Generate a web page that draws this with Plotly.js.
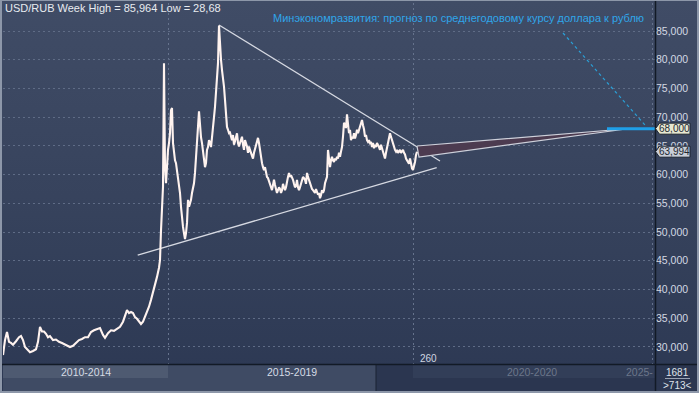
<!DOCTYPE html>
<html><head><meta charset="utf-8">
<script src="https://cdn.plot.ly/plotly-3.0.1.min.js"></script>
<style>
html,body{margin:0;padding:0;background:#2e3a55;overflow:hidden;}
#chart{width:699px;height:393px;background:linear-gradient(to bottom,#404c66 0%,#37435d 50%,#2c3853 100%);}
</style></head><body><div id="chart"></div>
<script>
// ---- data (week index, USD/RUB weekly price) ----
var earlyWeeks = [0,2,4,6,8,10,13,16,18,20,22,25,27,30,33,35,37,39,41,43,45,47,50,53,56,59,63,67,70,73,76,79,82,85,88,91,94,97,100,102,105,108,111,114,117,120,122,124,126,128,130,132,134,136,138,140,142,144,146,148,150,152,154,156];
var earlyPrice = [28.6,31.2,32.6,30.9,30.7,30.4,31.0,31.7,31.9,31.2,30.0,29.5,29.1,29.3,29.6,30.9,33.5,32.7,32.7,32.3,31.7,31.9,31.2,31.3,30.9,30.7,30.4,30.0,30.2,30.7,31.2,31.4,31.7,31.7,32.6,32.9,33.1,33.3,32.1,31.6,32.4,32.9,32.8,33.1,33.5,34.4,35.5,36.4,35.9,36.1,35.9,35.2,34.9,34.4,34.0,34.4,35.2,36.1,37.0,38.2,39.4,40.9,42.2,43.8];
var weeklyStart = 157;
var weeklyPrice = [45.1,50.3,55.0,57.9,79.4,61.3,58.5,62.5,64.3,65.5,67.2,71.2,71.6,65.5,63.8,62.5,62.0,60.8,60.0,58.5,
56.8,54.4,52.1,50.9,49.8,48.8,49.8,51.6,55.6,54.4,55.0,55.6,56.8,57.8,58.5,60.3,62.5,64.8,68.3,71.0,
68.3,66.5,65.5,64.3,62.5,61.3,62.0,64.3,64.8,66.0,65.5,64.8,66.5,69.0,70.0,71.8,74.2,76.5,79.4,85.96,
81.7,80.0,78.2,77.0,75.3,73.0,70.0,68.3,67.8,67.2,67.3,66.4,66.0,66.9,65.2,65.8,66.6,67.2,65.5,64.9,
65.5,66.0,66.6,65.2,64.3,66.0,65.5,64.9,63.8,64.9,64.3,63.8,63.1,62.8,63.8,64.6,65.2,66.0,66.4,65.5,
64.3,62.5,62.0,61.3,60.8,61.3,60.3,59.6,59.4,58.7,58.4,57.8,57.3,58.4,59.1,58.2,57.3,56.8,57.3,57.8,
57.5,56.8,57.3,58.4,57.8,57.3,57.8,59.1,59.6,60.3,59.6,59.9,59.6,59.1,58.4,57.8,58.0,59.1,57.8,57.3,
57.8,58.4,59.1,59.6,59.4,59.1,58.4,60.3,59.6,59.1,58.4,57.8,57.5,57.3,57.0,56.8,57.5,57.0,56.5,56.8,
55.9,56.4,57.3,56.8,57.3,58.5,59.1,59.6,64.3,62.5,61.3,62.5,63.1,62.5,62.2,62.8,62.5,63.1,62.8,63.8,
63.1,64.0,64.8,66.6,69.0,68.8,68.1,70.5,68.6,67.2,67.8,66.0,66.6,66.3,67.2,66.3,66.9,67.8,67.2,67.8,
68.3,69.2,69.5,68.6,67.9,66.6,66.9,66.0,65.7,66.0,65.5,65.7,64.8,65.5,64.6,65.2,64.8,65.5,65.2,64.8,
64.3,65.2,64.6,63.8,63.1,62.8,63.8,64.6,65.5,66.4,67.2,66.6,66.0,65.2,64.6,64.3,64.0,64.3,63.8,64.0,
64.3,63.8,64.0,64.3,63.8,63.5,62.8,62.5,62.2,61.9,62.8,61.9,61.1,60.8,61.4,62.2,63.4,63.994];

// drawn objects
var upperLineWeeks = [216, 437];   var upperLinePrices = [86.04, 62.37];
var lowerLineWeeks = [134.7, 433.7]; var lowerLinePrices = [46.0, 61.2];
var forecastWeeks = [414, 627, 416, 414]; var forecastPrices = [64.98, 68.03, 63.07, 64.98];
var targetWeeks = [604, 652]; var targetPrices = [68, 68];
var pointerWeeks = [560, 642]; var pointerPrices = [84.65, 68.64];
var yTicks = [30,35,40,45,50,55,60,65,70,75,80,85];
var gridWeeks = [165, 410, 649];
var lastPrice = 63.994, forecastPrice = 68.000;
var bandLabels = ['2010-2014','2015-2019','2020-2020','2025-'];

var weeks = earlyWeeks.slice(), prices = earlyPrice.slice();
weeklyPrice.forEach(function(v,i){ weeks.push(weeklyStart+i); prices.push(v); });

var FONT = 'Liberation Sans, Arial, sans-serif';
var traces = [
 {x:upperLineWeeks,y:upperLinePrices,mode:'lines',line:{color:'#d6d9e2',width:1.3},hoverinfo:'skip'},
 {x:lowerLineWeeks,y:lowerLinePrices,mode:'lines',line:{color:'#d6d9e2',width:1.3},hoverinfo:'skip'},
 {x:forecastWeeks,y:forecastPrices,mode:'lines',fill:'toself',fillcolor:'#4c3b50',line:{color:'#cdd0da',width:1.2},hoverinfo:'skip'},
 {x:weeks,y:prices,mode:'lines',line:{color:'#fff3ef',width:2.1},hoverinfo:'skip'},
 {x:targetWeeks,y:targetPrices,mode:'lines',line:{color:'#1f9fe8',width:3},hoverinfo:'skip'},
 {x:pointerWeeks,y:pointerPrices,mode:'lines',line:{color:'#2a9fd6',width:1.2,dash:'dot'},hoverinfo:'skip'}
];

function px(p){return (p-3)/652;}
function py(p){return (364-p)/361;}
function rect(x0,x1,y0,y1,c){return {type:'rect',xref:'paper',yref:'paper',x0:px(x0),x1:px(x1),y0:py(y1),y1:py(y0),fillcolor:c,line:{width:0},layer:'above'};}
function line(x0,y0,x1,y1,c,w){return {type:'line',xref:'paper',yref:'paper',x0:px(x0),x1:px(x1),y0:py(y0),y1:py(y1),line:{color:c,width:w},layer:'above'};}
function tag(v,fill){
  var h=0.96;
  return {type:'path',xref:'paper',yref:'y',layer:'above',
    path:'M '+px(655.5)+','+v+' L '+px(659.5)+','+(v+h)+' L '+px(690)+','+(v+h)+' L '+px(690)+','+(v-h)+' L '+px(659.5)+','+(v-h)+' Z',
    fillcolor:fill,line:{color:'#1b2330',width:1}};
}
var shapes = [
 rect(3,168,365,378,'#4e5a71'),
 rect(168,376,365,391,'#3f4b64'),
 rect(3,168,378,391,'#3f4b64'),
 rect(376,655,365,391,'#2b3650'),
 rect(413,655,365,378,'#323e58'),
 rect(655,699,365,393,'#2b3650'),
 line(376,365,376,391,'#1a2232',1),
 line(665,378.5,690,378.5,'#9aa3b3',1),
 line(0,364.5,699,364.5,'#121a26',1.5),
 line(655.5,0,655.5,393,'#121a26',1.5),
 line(1,0,1,393,'#8d97a9',2),
 line(698,0,698,393,'#8d97a9',2),
 line(0,392,699,392,'#8d97a9',2),
 line(0,0.5,699,0.5,'#8d97a9',1),
 tag(forecastPrice,'#e7e7d0'),
 tag(lastPrice,'#c9ced8')
];

var annotations = [
 {xref:'paper',yref:'paper',x:px(3),y:py(8),xanchor:'left',yanchor:'middle',showarrow:false,
  text:'USD/RUB Week High = 85,964 Low = 28,68',font:{family:FONT,size:11,color:'#e8ebf0'}},
 {xref:'paper',yref:'paper',x:px(646),y:py(18),xanchor:'right',yanchor:'middle',showarrow:false,
  text:'Минэкономразвития: прогноз по среднегодовому курсу доллара к рублю',font:{family:FONT,size:11,color:'#2fa6ea'}},
 {xref:'paper',yref:'paper',x:px(428),y:py(358),xanchor:'center',yanchor:'middle',showarrow:false,
  text:'260',font:{family:FONT,size:10,color:'#d0d6e0'}},
 {xref:'paper',yref:'paper',x:px(86),y:py(372),xanchor:'center',yanchor:'middle',showarrow:false,
  text:bandLabels[0],font:{family:FONT,size:10.5,color:'#d6dbe4'}},
 {xref:'paper',yref:'paper',x:px(292),y:py(372),xanchor:'center',yanchor:'middle',showarrow:false,
  text:bandLabels[1],font:{family:FONT,size:10.5,color:'#d6dbe4'}},
 {xref:'paper',yref:'paper',x:px(532),y:py(372),xanchor:'center',yanchor:'middle',showarrow:false,
  text:bandLabels[2],font:{family:FONT,size:10.5,color:'#6c768a'}},
 {xref:'paper',yref:'paper',x:px(655),y:py(372),xanchor:'right',yanchor:'middle',showarrow:false,
  text:bandLabels[3],font:{family:FONT,size:10.5,color:'#6c768a'}},
 {xref:'paper',yref:'paper',x:px(678),y:py(372),xanchor:'center',yanchor:'middle',showarrow:false,
  text:'1681',font:{family:FONT,size:10,color:'#dfe3ea'}},
 {xref:'paper',yref:'paper',x:px(678),y:py(385),xanchor:'center',yanchor:'middle',showarrow:false,
  text:'&gt;713&lt;',font:{family:FONT,size:10,color:'#dfe3ea'}},
 {xref:'paper',yref:'y',x:px(674),y:forecastPrice,xanchor:'center',yanchor:'middle',showarrow:false,
  text:'68,000',font:{family:FONT,size:10,color:'#222831'}},
 {xref:'paper',yref:'y',x:px(674),y:lastPrice,xanchor:'center',yanchor:'middle',showarrow:false,
  text:'63,994',font:{family:FONT,size:10,color:'#222831'}}
];

var layout = {
 width:699,height:393,margin:{l:3,r:44,t:3,b:29,pad:0},
 paper_bgcolor:'rgba(0,0,0,0)',plot_bgcolor:'rgba(0,0,0,0)',
 showlegend:false,separators:', ',
 xaxis:{range:[0,652],tickvals:gridWeeks,showticklabels:false,ticks:'',showgrid:true,gridcolor:'#66738d',griddash:'2px,3px',gridwidth:1,zeroline:false,showline:false,fixedrange:true},
 yaxis:{range:[27.037,89.874],side:'right',tickvals:yTicks,tickformat:'.3f',ticks:'',showgrid:true,gridcolor:'#5f6c86',griddash:'2px,3px',gridwidth:1,zeroline:false,showline:false,
   tickfont:{family:FONT,size:10.5,color:'#d3d9e3'},fixedrange:true},
 shapes:shapes,annotations:annotations,font:{family:FONT}
};
Plotly.newPlot('chart',traces,layout,{displayModeBar:false,staticPlot:true});
</script></body></html>
